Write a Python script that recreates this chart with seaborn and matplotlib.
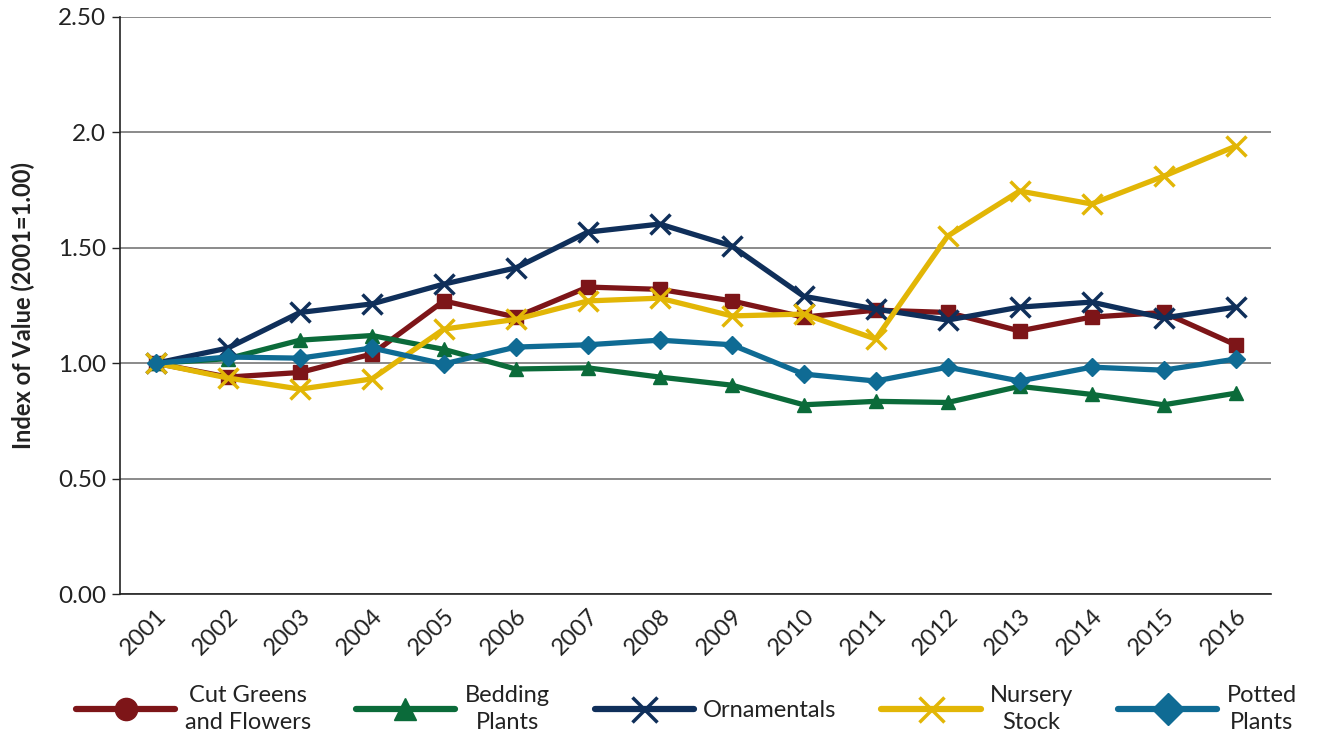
import pandas as pd
import matplotlib
matplotlib.use("Agg")
import matplotlib.pyplot as plt
from matplotlib.lines import Line2D
import seaborn as sns

# data
years = [str(y) for y in range(2001, 2017)]
cut_greens = [1.00, 0.94, 0.96, 1.04, 1.27, 1.20, 1.33, 1.32, 1.27, 1.20, 1.23, 1.22, 1.14, 1.20, 1.22, 1.08]
bedding = [1.00, 1.02, 1.10, 1.12, 1.06, 0.975, 0.98, 0.94, 0.905, 0.82, 0.835, 0.83, 0.90, 0.865, 0.82, 0.87]
ornamentals = [1.00, 1.066, 1.22, 1.257, 1.343, 1.413, 1.568, 1.603, 1.508, 1.29, 1.235, 1.187, 1.243, 1.265, 1.196, 1.243]
nursery = [1.00, 0.936, 0.888, 0.932, 1.148, 1.19, 1.27, 1.282, 1.205, 1.213, 1.105, 1.551, 1.746, 1.69, 1.81, 1.94]
potted = [1.00, 1.027, 1.022, 1.066, 0.997, 1.07, 1.08, 1.10, 1.08, 0.953, 0.923, 0.983, 0.923, 0.983, 0.97, 1.018]

series_names = ["Cut Greens\nand Flowers", "Bedding\nPlants", "Ornamentals", "Nursery\nStock", "Potted\nPlants"]
series_values = [cut_greens, bedding, ornamentals, nursery, potted]
colors = ["#7d1518", "#0b6b3a", "#0f2f5a", "#e2b606", "#0f6b94"]
markers = ["s", "^", "x", "x", "D"]
legend_markers = ["o", "^", "x", "x", "D"]
msizes = [10, 10, 14, 14, 9]

y_ticks = [0.0, 0.5, 1.0, 1.5, 2.0, 2.5]
y_ticklabels = ["0.00", "0.50", "1.00", "1.50", "2.0", "2.50"]

rows = []
for name, vals in zip(series_names, series_values):
    for i, v in enumerate(vals):
        rows.append({"idx": i, "value": v, "series": name})
df = pd.DataFrame(rows)

sns.set_style("white")
plt.rcParams["font.family"] = ["Lato", "DejaVu Sans"]

fig = plt.figure(figsize=(13.22, 7.38), dpi=100)
ax = fig.add_axes([0.0908, 0.195, 0.871, 0.782])

for name, c, m, ms in zip(series_names, colors, markers, msizes):
    sns.lineplot(data=df[df["series"] == name], x="idx", y="value", ax=ax,
                 color=c, marker=m, markersize=ms, linewidth=3.8,
                 markeredgewidth=2.5 if m == "x" else 1, markeredgecolor=c,
                 legend=False, zorder=3)

ax.set_xlim(-0.5, 15.5)
ax.set_ylim(0, 2.5)
ax.set_yticks(y_ticks)
ax.set_yticklabels(y_ticklabels, fontsize=17.5, color="#222222")
ax.yaxis.grid(True, color="#777777", linewidth=1.2)
ax.set_axisbelow(True)

# category labels centred, tick marks on boundaries
ax.set_xticks(range(len(years)))
ax.set_xticklabels(years, rotation=45, ha="right", rotation_mode="anchor", fontsize=17, color="#222222")
ax.tick_params(axis="x", length=0, pad=8)
ax.set_xticks([i - 0.5 for i in range(len(years) + 1)], minor=True)
ax.tick_params(axis="x", which="minor", length=6, width=1, color="#222222", direction="out")
ax.tick_params(axis="y", length=6, width=1, color="#222222", direction="out", left=True, pad=4)

for s in ["top", "right"]:
    ax.spines[s].set_visible(False)
for s in ["left", "bottom"]:
    ax.spines[s].set_color("#222222")
    ax.spines[s].set_linewidth(1.2)

ax.set_xlabel("")
ax.set_ylabel("Index of Value (2001=1.00)", fontsize=17, fontweight="bold", color="#222222")
ax.yaxis.set_label_coords(-0.074, 0.5)

handles = [Line2D([0], [0], color=c, marker=m, markersize=16 if m != "x" else 18,
                  markeredgewidth=2.5 if m == "x" else 1, markeredgecolor=c, linewidth=4.5)
           for c, m in zip(colors, legend_markers)]
leg = ax.legend(handles, series_names, loc="upper center", bbox_to_anchor=(0.492, -0.12), ncol=5,
                frameon=False, fontsize=17, handlelength=4.2, columnspacing=1.9, handletextpad=0.4)
for t in leg.get_texts():
    t.set_multialignment("center")
    t.set_linespacing(1.35)
    t.set_color("#222222")

fig.savefig("out.png", dpi=100)
